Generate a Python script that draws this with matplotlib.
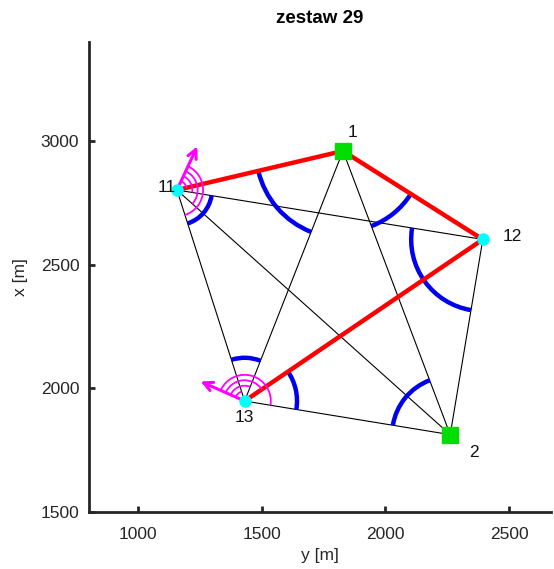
import numpy as np
import matplotlib.pyplot as plt
from matplotlib.patches import Arc

plt.rcParams['font.family'] = ['Liberation Sans', 'DejaVu Sans']

# punkty: nazwa, X (północ), Y (wschód)
names = ['1', '2', '11', '12', '13']
X = [2960, 1812, 2802, 2602, 1948]
Y = [1828, 2262, 1156, 2394, 1430]
fixed = ['1', '2']          # punkty nawiązania
new = ['11', '12', '13']    # punkty wyznaczane

# obserwacje (cienkie linie)
obs = [('11', '12'), ('11', '13'), ('11', '2'), ('1', '13'), ('1', '2'),
       ('12', '2'), ('13', '2'), ('11', '1')]
# ciąg (czerwone linie)
trav = [('11', '1'), ('1', '12'), ('12', '13')]

# kąty (niebieskie łuki): stanowisko, cel 1, cel 2, promień [m]
ang_st = ['11', '1', '1', '12', '2', '13', '13']
ang_l = ['12', '11', '2', '11', '13', '11', '12']
ang_r = ['13', '13', '12', '2', '1', '1', '2']
ang_rad = [142, 352, 325, 290, 235, 175, 212]

# kierunki (magenta): stanowisko, azymut zera limbusa, cele
dir_st = ['11', '13']
dir_zero = [25, 294]
dir_targets = [['1', '12', '2', '13'], ['11', '1', '12', '2']]

lab_off = {'1': (7, 13), '2': (17, -13), '11': (-7, 2), '12': (21, 2), '13': (0, -12)}

P = {n: (y, x) for n, x, y in zip(names, X, Y)}


def ang(a, b):
    return np.degrees(np.arctan2(P[b][1] - P[a][1], P[b][0] - P[a][0]))


fig = plt.figure(figsize=(5.54, 5.69), dpi=100)
ax = fig.add_axes([0.1606, 0.1002, 0.834, 0.826])

for a, b in obs:
    ax.plot([P[a][0], P[b][0]], [P[a][1], P[b][1]], color='k', lw=0.8, zorder=2)
for a, b in trav:
    ax.plot([P[a][0], P[b][0]], [P[a][1], P[b][1]], color='red', lw=3.2, zorder=4)

for s, l, r, rad in zip(ang_st, ang_l, ang_r, ang_rad):
    t1 = ang(s, l)
    t2 = ang(s, r)
    if (t2 - t1) % 360 > 180:
        t1, t2 = t2, t1
    ax.add_patch(Arc(P[s], 2 * rad, 2 * rad, theta1=t1, theta2=t2,
                     color='#0000ee', lw=3.2, zorder=3))

for s, z, tg in zip(dir_st, dir_zero, dir_targets):
    z_math = 90 - z
    for k, t in enumerate(tg):
        rad = 40 + 22 * k
        ta = ang(s, t)
        while ta > z_math:
            ta -= 360
        ax.add_patch(Arc(P[s], 2 * rad, 2 * rad, theta1=ta, theta2=z_math,
                         color='magenta', lw=1.3, zorder=5))
    L = 195
    ex = P[s][0] + L * np.cos(np.radians(z_math))
    ey = P[s][1] + L * np.sin(np.radians(z_math))
    ax.annotate('', xy=(ex, ey), xytext=P[s],
                arrowprops=dict(arrowstyle='->', color='magenta', lw=2.2,
                                mutation_scale=16, shrinkA=0, shrinkB=0), zorder=5)

for n in new:
    ax.plot(*P[n], 'o', color='cyan', ms=8, zorder=6)
for n in fixed:
    ax.plot(*P[n], 's', color='#00dd00', ms=11, zorder=6)

for n in names:
    ax.annotate(n, P[n], xytext=lab_off[n], textcoords='offset points',
                ha='center', va='center', fontsize=12.5, color='#111111', zorder=7)

ax.set_xlim(800, 2670)
ax.set_ylim(1500, 3400)
ax.set_aspect('equal')
ax.set_xticks([1000, 1500, 2000, 2500])
ax.set_yticks([1500, 2000, 2500, 3000])
for sp in ['top', 'right']:
    ax.spines[sp].set_visible(False)
for sp in ['left', 'bottom']:
    ax.spines[sp].set_linewidth(2)
    ax.spines[sp].set_color('#262626')
ax.tick_params(direction='in', length=4, width=2, colors='#262626',
               labelsize=12.5)
ax.tick_params(axis='x', pad=11)
ax.tick_params(axis='y', pad=7)
ax.set_xlabel('y [m]', fontsize=12.5, color='#262626', labelpad=4)
ax.set_ylabel('x [m]', fontsize=12.5, color='#262626', labelpad=9)
ax.set_title('zestaw 29', fontsize=13.5, fontweight='bold', pad=14)

fig.savefig('out.png', dpi=100)
